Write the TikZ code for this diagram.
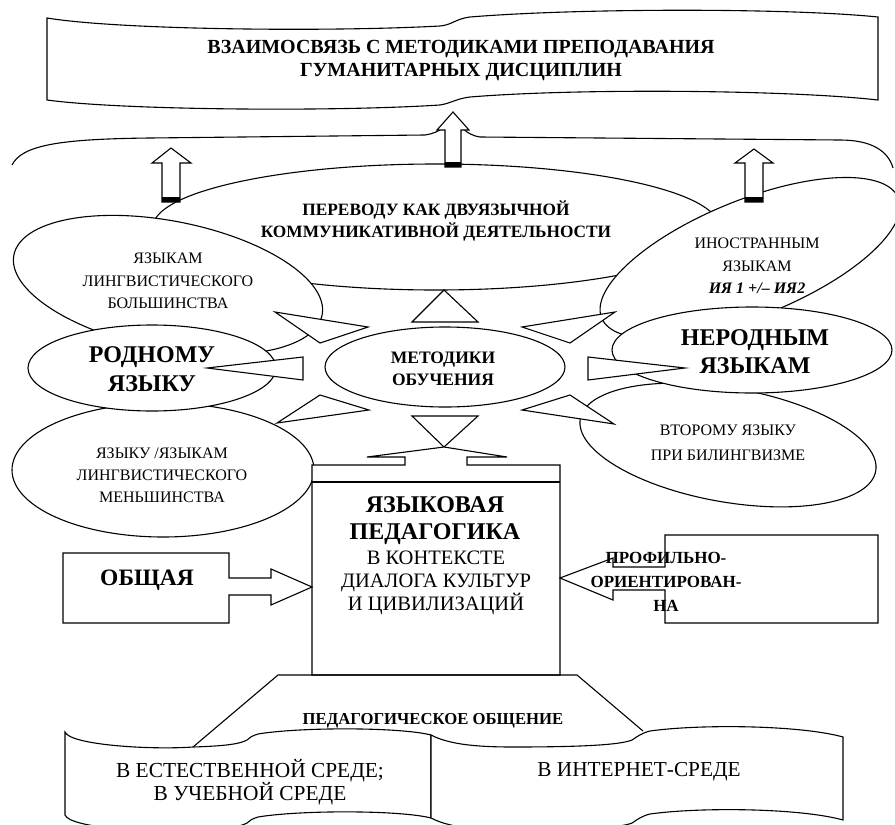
\documentclass[tikz,border=0pt]{standalone}
\usepackage{fontspec}
\setmainfont{Liberation Serif}
\newcommand\fs[2]{\fontsize{#1}{#2}\selectfont}
\begin{document}
\begin{tikzpicture}[x=1pt,y=-1pt,line width=1.1pt,line join=miter,
  shp/.style={draw=black,fill=white},
  txt/.style={align=center,inner sep=0pt}]
\useasboundingbox (0,0) rectangle (895,825);
\clip (0,0) rectangle (895,825);
% top banner
\draw[shp] (47,18) .. controls (120,30) and (330,32) .. (440,26) .. controls (452,25) and (455,19) .. (470,17) .. controls (580,8) and (790,8) .. (878,17) -- (878,100) .. controls (790,90) and (580,88) .. (470,97) .. controls (455,99) and (452,103) .. (440,105) .. controls (330,112) and (120,110) .. (47,100) -- cycle;
% brace
\draw (12,165) .. controls (22,145) and (60,139) .. (150,138) -- (425,135) .. controls (440,133) and (448,125) .. (453,113) .. controls (458,125) and (466,135) .. (480,137) -- (840,140) .. controls (870,140) and (888,150) .. (893,168);
% ellipses
\draw[shp] (436,227) ellipse [x radius=283, y radius=63];
\draw[shp, rotate around={-11:(168,285)}] (168,285) ellipse [x radius=157, y radius=64];
\draw[shp, rotate around={22:(750,258)}] (750,258) ellipse [x radius=160, y radius=58];
\draw[shp] (163,470) ellipse [x radius=151, y radius=67];
\draw[shp] (152,368) ellipse [x radius=124, y radius=43];
\draw[shp, rotate around={-10:(728,445)}] (728,445) ellipse [x radius=150, y radius=57];
\draw[shp] (752,350) ellipse [x radius=140, y radius=43];
\draw[shp] (445,367) ellipse [x radius=120, y radius=40];
% triangles
\draw[shp] (444,290) -- (478,322) -- (412,322) -- cycle;
\draw[shp] (412,416) -- (478,416) -- (444,447) -- cycle;
\draw[shp] (275,312) -- (368,327) -- (320,343) -- cycle;
\draw[shp] (207,368) -- (303,357) -- (303,380) -- cycle;
\draw[shp] (277,423) -- (320,395) -- (369,410) -- cycle;
\draw[shp] (615,312) -- (522,327) -- (570,343) -- cycle;
\draw[shp] (685,368) -- (588,357) -- (588,380) -- cycle;
\draw[shp] (522,410) -- (570,395) -- (614,424) -- cycle;
% up arrows
\draw[shp] (162,202) -- (162,163) -- (152,163) -- (171,148) -- (191,163) -- (180,163) -- (180,202) -- cycle;
\fill (162,197) rectangle (180,202);
\draw[shp] (445,167) -- (445,130) -- (437,130) -- (453,112) -- (469,130) -- (461,130) -- (461,167) -- cycle;
\fill (445,162) rectangle (461,167);
\draw[shp] (745,202) -- (745,163) -- (735,163) -- (754,149) -- (773,163) -- (763,163) -- (763,202) -- cycle;
\fill (745,197) rectangle (763,202);
% central box
\draw[shp] (312,465) -- (405,465) -- (405,457) -- (367,457) -- (444,447) -- (507,457) -- (467,457) -- (467,465) -- (560,465) -- (560,675) -- (312,675) -- cycle;
\draw (312,482) -- (560,482);
% side arrows
\draw[shp] (63,553) -- (229,553) -- (229,578) -- (271,578) -- (271,569) -- (312,587) -- (271,605) -- (271,595) -- (229,595) -- (229,623) -- (63,623) -- cycle;
\draw[shp] (665,535) -- (878,535) -- (878,623) -- (665,623) -- (665,590) -- (613,590) -- (613,600) -- (560,578) -- (613,558) -- (613,567) -- (665,567) -- cycle;
% trapezoid
\draw (193,747) -- (278,675) -- (577,675) -- (643,731);
% bottom boxes
\draw[shp] (65,732) .. controls (70,745) and (150,750) .. (193,747) .. controls (225,746) and (240,744) .. (247,740) .. controls (250,737) and (252,736) .. (258,734) .. controls (300,727) and (400,727) .. (431,735) -- (431,818) .. controls (400,810) and (300,810) .. (258,817) .. controls (252,819) and (250,820) .. (247,823) .. controls (240,827) and (225,829) .. (193,830) .. controls (150,833) and (70,828) .. (65,815) -- cycle;
\draw[shp] (431,735) .. controls (450,745) and (480,747) .. (513,747) .. controls (580,747) and (620,745) .. (632,740) .. controls (638,736) and (642,733) .. (650,731) .. controls (700,724) and (800,725) .. (843,737) -- (843,820) .. controls (800,808) and (700,807) .. (650,814) .. controls (642,816) and (638,819) .. (632,823) .. controls (620,828) and (580,830) .. (513,830) .. controls (480,830) and (450,828) .. (431,818) -- cycle;
% texts
\node[txt,font=\fs{20}{23}\bfseries] (banner) at (461,61) {ВЗАИМОСВЯЗЬ С МЕТОДИКАМИ ПРЕПОДАВАНИЯ\\ГУМАНИТАРНЫХ ДИСЦИПЛИН};
\node[txt,font=\fs{17.3}{22}\bfseries] (perevod) at (436,221) {ПЕРЕВОДУ КАК ДВУЯЗЫЧНОЙ\\КОММУНИКАТИВНОЙ ДЕЯТЕЛЬНОСТИ};
\node[txt,font=\fs{16}{22.5}] (bolsh) at (168,281) {ЯЗЫКАМ\\ЛИНГВИСТИЧЕСКОГО\\БОЛЬШИНСТВА};
\node[txt,font=\fs{16}{22.5}] (inostr) at (757,266) {ИНОСТРАННЫМ\\ЯЗЫКАМ\\{\bfseries\itshape ИЯ 1 +/– ИЯ2}};
\node[txt,font=\fs{24}{29}\bfseries] (rodn) at (152,369) {РОДНОМУ\\ЯЗЫКУ};
\node[txt,font=\fs{24}{28}\bfseries] (nerodn) at (755,352) {НЕРОДНЫМ\\ЯЗЫКАМ};
\node[txt,font=\fs{17.5}{22}\bfseries] (metod) at (443,369) {МЕТОДИКИ\\ОБУЧЕНИЯ};
\node[txt,font=\fs{16}{22}] (mensh) at (162,475) {ЯЗЫКУ /ЯЗЫКАМ\\ЛИНГВИСТИЧЕСКОГО\\МЕНЬШИНСТВА};
\node[txt,font=\fs{16}{25}] (vtor) at (728,443) {ВТОРОМУ ЯЗЫКУ\\ПРИ БИЛИНГВИЗМЕ};
\node[txt,font=\fs{24}{27}\bfseries] (boxtitle) at (435,521) {ЯЗЫКОВАЯ\\ПЕДАГОГИКА};
\node[txt,font=\fs{20.5}{23}] (boxsub) at (436,583) {В КОНТЕКСТЕ\\ДИАЛОГА КУЛЬТУР\\И ЦИВИЛИЗАЦИЙ};
\node[txt,font=\fs{23.5}{26}\bfseries] (obsh) at (147,580) {ОБЩАЯ};
\node[txt,font=\fs{17}{24}\bfseries] (prof) at (666,582) {ПРОФИЛЬНО-\\ОРИЕНТИРОВАН-\\НА};
\node[txt,font=\fs{16.7}{20}\bfseries] (pedobsh) at (433,721) {ПЕДАГОГИЧЕСКОЕ ОБЩЕНИЕ};
\node[txt,font=\fs{21.4}{23}] (natural) at (250,782) {В ЕСТЕСТВЕННОЙ СРЕДЕ;\\В УЧЕБНОЙ СРЕДЕ};
\node[txt,font=\fs{21.3}{23}] (internet) at (639,772) {В ИНТЕРНЕТ-СРЕДЕ};
\end{tikzpicture}
\end{document}
